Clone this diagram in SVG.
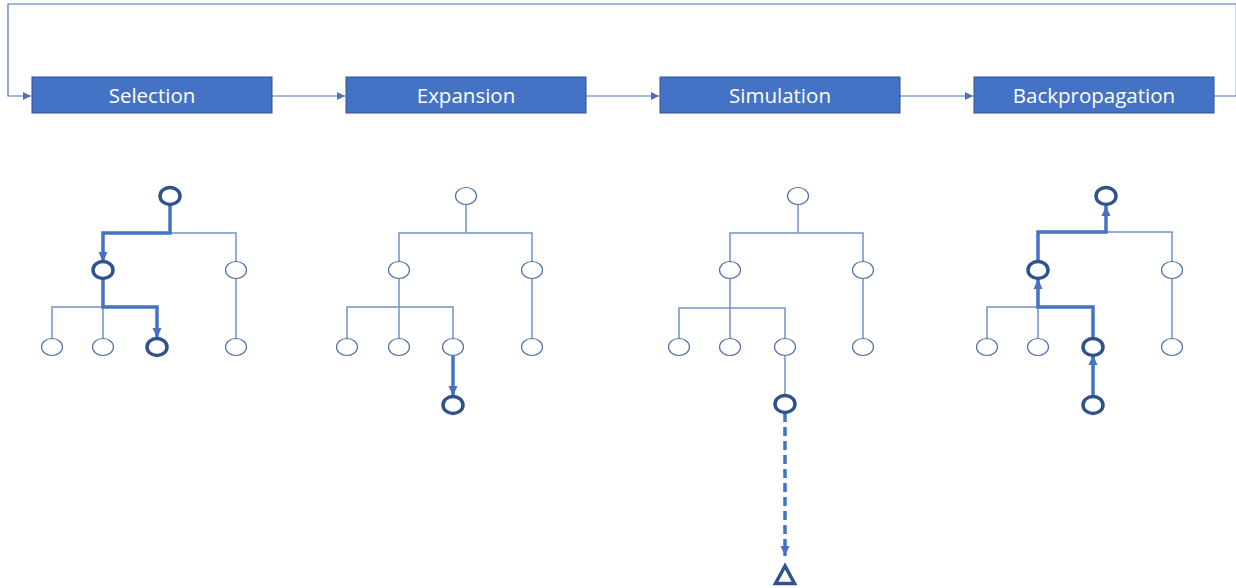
<svg xmlns="http://www.w3.org/2000/svg" width="1236" height="588" viewBox="0 0 1236 588">
<defs>
<style>
.box{fill:#4472C4;stroke:#2F528F;stroke-width:1}
.lbl{fill:#fff;font-family:"Open Sans","Noto Sans",sans-serif;font-size:20.5px;text-anchor:middle}
.flow{fill:none;stroke:#4A72B8;stroke-width:1.2}
.thin{fill:none;stroke:#7293CB;stroke-width:1.5}
.thick{fill:none;stroke:#4472C4;stroke-width:3.5}
.n{fill:#fff;stroke:#4F6FA8;stroke-width:1.2}
.b{fill:#fff;stroke:#2F528F;stroke-width:3.5}
</style>
<marker id="sa" viewBox="0 0 10 10" refX="10" refY="5" markerWidth="8" markerHeight="8" markerUnits="userSpaceOnUse" orient="auto"><path d="M0,0L10,5L0,10z" fill="#4A72B8"/></marker>
<marker id="ta" viewBox="0 0 10 10" refX="10" refY="5" markerWidth="10" markerHeight="10" markerUnits="userSpaceOnUse" orient="auto"><path d="M0,0.5L10,5L0,9.5z" fill="#4472C4"/></marker>
</defs>
<g id="connectors">
<path class="flow" d="M1214,96H1236.3V4H8V96H31" marker-end="url(#sa)"/>
<path class="flow" d="M272,96H345" marker-end="url(#sa)"/>
<path class="flow" d="M586,96H659" marker-end="url(#sa)"/>
<path class="flow" d="M900,96H973" marker-end="url(#sa)"/>
<!-- Selection tree -->
<path class="thin" d="M170,233H236V262M236,279V338M103,307H52V338M103,307V338"/>
<path class="thick" d="M170,205V233H103V262" marker-end="url(#ta)"/>
<path class="thick" d="M103,279V307H157V338" marker-end="url(#ta)"/>
<!-- Expansion tree -->
<path class="thin" d="M466,205V233M399,262V233H532V262M532,279V338M399,279V338M347,338V307H453V338"/>
<path class="thick" d="M453,355V396" marker-end="url(#ta)"/>
<!-- Simulation tree -->
<path class="thin" d="M798,205V233M730,262V233H863V262M863,279V338M730,279V338M679,338V308H785V338M785,355V395"/>
<path class="thick" d="M785,413V556" stroke-dasharray="9,5" marker-end="url(#ta)"/>
<!-- Backpropagation tree -->
<path class="thin" d="M1106,232H1172V262M1172,279V338M1038,307H987V338M1038,307V338"/>
<path class="thick" d="M1093,396V355" marker-end="url(#ta)"/>
<path class="thick" d="M1093,338V307H1038V279" marker-end="url(#ta)"/>
<path class="thick" d="M1038,262V232H1106V206" marker-end="url(#ta)"/>
</g>
<g id="selection"><rect class="box" x="32" y="77" width="240" height="36"/><text class="lbl" x="152" y="103">Selection</text></g>
<g id="expansion"><rect class="box" x="346" y="77" width="240" height="36"/><text class="lbl" x="466" y="103">Expansion</text></g>
<g id="simulation"><rect class="box" x="660" y="77" width="240" height="36"/><text class="lbl" x="780" y="103">Simulation</text></g>
<g id="backpropagation"><rect class="box" x="974" y="77" width="240" height="36"/><text class="lbl" x="1094" y="103">Backpropagation</text></g>
<g id="tree-selection">
<ellipse class="b" cx="170" cy="196" rx="10" ry="8.5"/>
<ellipse class="b" cx="103" cy="270" rx="10" ry="8.5"/>
<ellipse class="n" cx="236" cy="270" rx="10.5" ry="8.5"/>
<ellipse class="n" cx="52" cy="347" rx="10.5" ry="8.5"/>
<ellipse class="n" cx="103" cy="347" rx="10.5" ry="8.5"/>
<ellipse class="b" cx="157" cy="347" rx="10" ry="8.5"/>
<ellipse class="n" cx="236" cy="347" rx="10.5" ry="8.5"/>
</g>
<g id="tree-expansion">
<ellipse class="n" cx="466" cy="196" rx="10.5" ry="8.5"/>
<ellipse class="n" cx="399" cy="270" rx="10.5" ry="8.5"/>
<ellipse class="n" cx="532" cy="270" rx="10.5" ry="8.5"/>
<ellipse class="n" cx="347" cy="347" rx="10.5" ry="8.5"/>
<ellipse class="n" cx="399" cy="347" rx="10.5" ry="8.5"/>
<ellipse class="n" cx="453" cy="347" rx="10.5" ry="8.5"/>
<ellipse class="n" cx="532" cy="347" rx="10.5" ry="8.5"/>
<ellipse class="b" cx="453" cy="405" rx="10" ry="8.5"/>
</g>
<g id="tree-simulation">
<ellipse class="n" cx="798" cy="196" rx="10.5" ry="8.5"/>
<ellipse class="n" cx="730" cy="270" rx="10.5" ry="8.5"/>
<ellipse class="n" cx="863" cy="270" rx="10.5" ry="8.5"/>
<ellipse class="n" cx="679" cy="347" rx="10.5" ry="8.5"/>
<ellipse class="n" cx="730" cy="347" rx="10.5" ry="8.5"/>
<ellipse class="n" cx="785" cy="347" rx="10.5" ry="8.5"/>
<ellipse class="n" cx="863" cy="347" rx="10.5" ry="8.5"/>
<ellipse class="b" cx="785" cy="404" rx="10" ry="8.5"/>
<path class="b" d="M785,566L775.5,583.5H794.5z"/>
</g>
<g id="tree-backpropagation">
<ellipse class="b" cx="1106" cy="196" rx="10" ry="8.5"/>
<ellipse class="b" cx="1038" cy="270" rx="10" ry="8.5"/>
<ellipse class="n" cx="1172" cy="270" rx="10.5" ry="8.5"/>
<ellipse class="n" cx="987" cy="347" rx="10.5" ry="8.5"/>
<ellipse class="n" cx="1038" cy="347" rx="10.5" ry="8.5"/>
<ellipse class="b" cx="1093" cy="347" rx="10" ry="8.5"/>
<ellipse class="n" cx="1172" cy="347" rx="10.5" ry="8.5"/>
<ellipse class="b" cx="1093" cy="405" rx="10" ry="8.5"/>
</g>
</svg>
